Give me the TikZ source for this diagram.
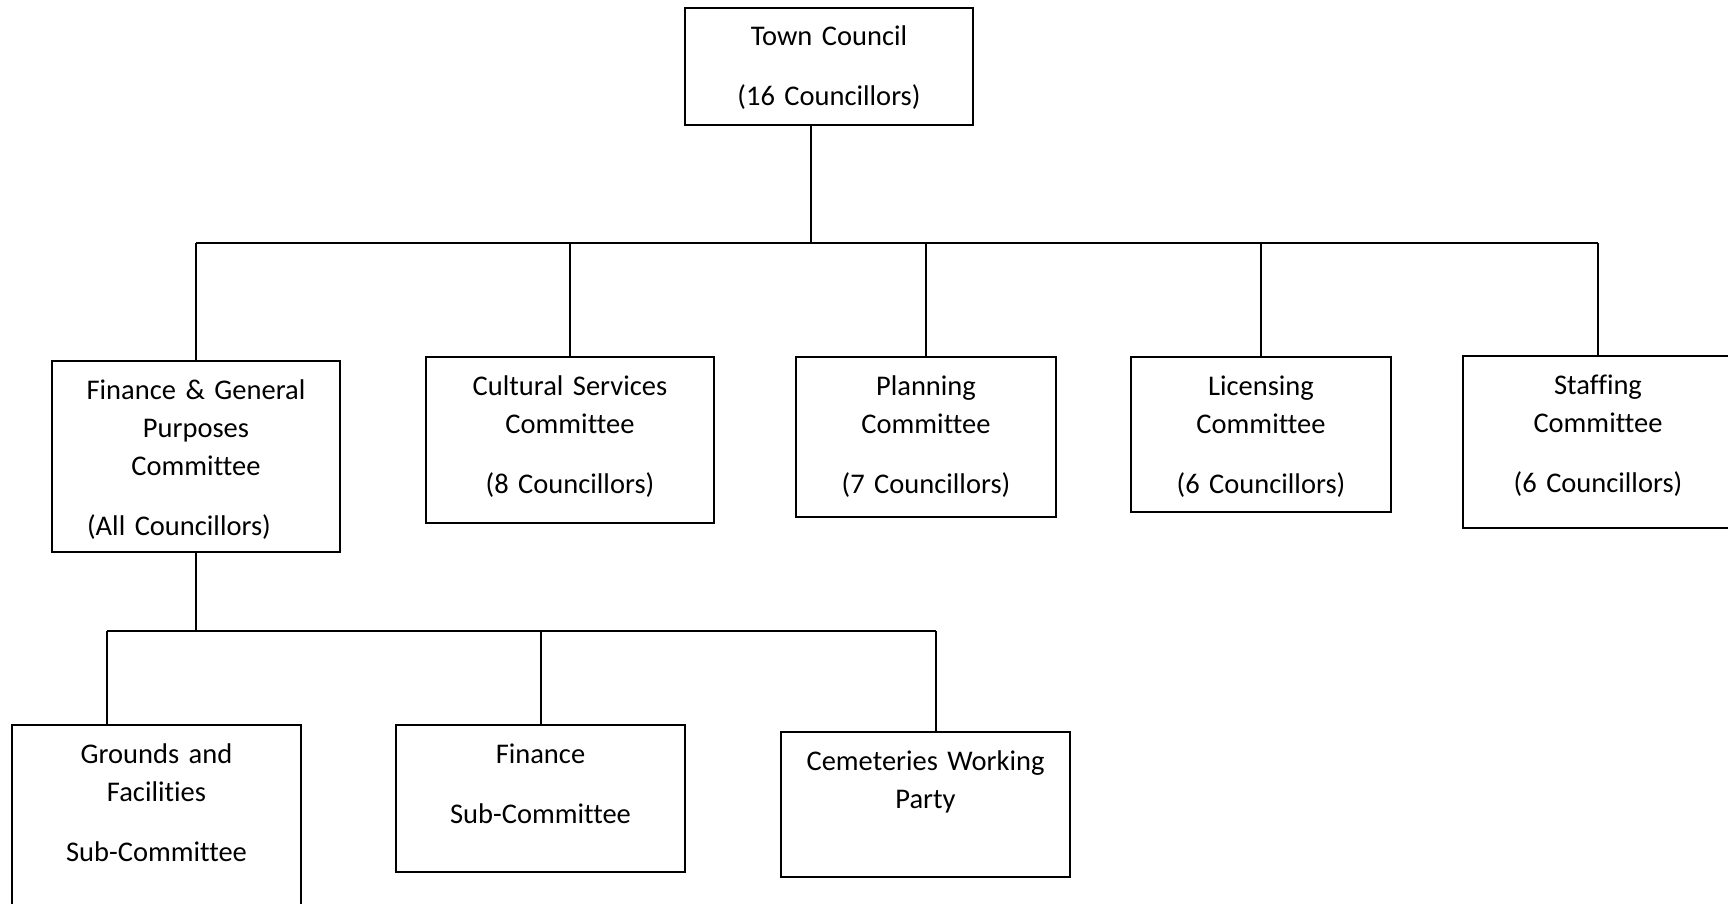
\documentclass[tikz,border=0pt]{standalone}
\usepackage{fontspec}
\setmainfont[Ligatures=NoCommon]{Carlito}
\usetikzlibrary{positioning}
\tikzset{comm node/.style={draw,line width=1pt,align=center,inner sep=0pt,anchor=north,text height=19pt,font=\fontsize{14.25pt}{19pt}\selectfont},}

\begin{document}
\begin{tikzpicture}[x=0.5pt,y=-0.5pt,line width=1pt]
    \path[use as bounding box,clip] (0,0) rectangle (1728,904);

    \node[comm node,text width=144pt,text depth=39.5pt] (1) at (829,7) {Town Council\\[11pt](16 Councillors)};

    \node[comm node,text width=144pt,text depth=76.5pt] (2) at (196,360) {Finance \& General\\Purposes\\Committee\\[11pt]\hspace*{-17pt}(All Councillors)};
    \node[comm node,text width=144pt,text depth=64pt] (3) at (570,356) {Cultural Services\\Committee\\[11pt](8 Councillors)};
    \node[comm node,text width=130pt,text depth=61pt] (4) at (926,356) {Planning\\Committee\\[11pt](7 Councillors)};
    \node[comm node,text width=130pt,text depth=58.5pt] (5) at (1261,356) {Licensing\\Committee\\[11pt](6 Councillors)};
    \node[comm node,text width=135pt,text depth=67pt] (6) at (1598,355) {Staffing\\Committee\\[11pt](6 Councillors)};

    \node[comm node,text width=144.5pt,text depth=81pt] (7) at (156.5,724) {Grounds and\\Facilities\\[11pt]Sub-Committee};
    \node[comm node,text width=144.5pt,text depth=54.5pt] (8) at (540.5,724) {Finance\\[11pt]Sub-Committee};
    \node[comm node,text width=144.5pt,text depth=53.5pt] (9) at (925.5,731) {Cemeteries Working\\Party};

    % council to committees
    \coordinate (a) at (811,243);
    \draw (1.south -| a) -- (a);
    \draw (2.north |- a) -- (6.north |- a);
    \foreach \n in {2,...,6}
        \draw (\n.north) -- (\n.north |- a);

    % finance to sub-committees
    \coordinate (c1) at (107,631);
    \coordinate (c2) at (541,631);
    \coordinate (c3) at (936,631);
    \draw (2.south) -- (2.south |- c1);
    \draw (c1) -- (c3);
    \foreach \c/\n in {c1/7,c2/8,c3/9}
        \draw (\c) -- (\c |- \n.north);
\end{tikzpicture}
\end{document}
